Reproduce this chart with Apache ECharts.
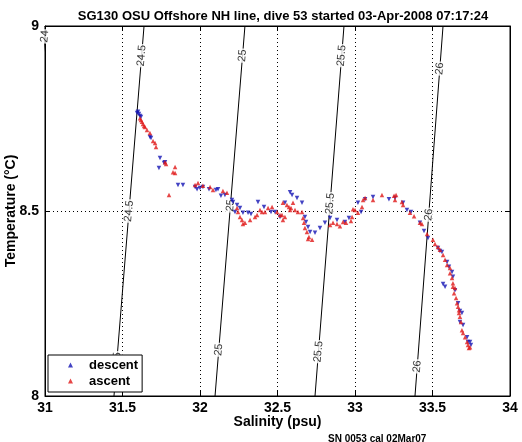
<!DOCTYPE html>
<html><head><meta charset="utf-8">
<script src="https://cdn.jsdelivr.net/npm/echarts@6/dist/echarts.min.js"></script>
<style>html,body{margin:0;padding:0;background:#fff}#c{width:522px;height:442px}</style>
</head><body><div id="c"></div>
<script>
// ---- data ----
const titleText = 'SG130 OSU Offshore NH line, dive 53 started 03-Apr-2008 07:17:24';
const xName = 'Salinity (psu)';
const yName = 'Temperature (\u00B0C)';
const noteText = 'SN 0053 cal 02Mar07';
const xTicks = [31, 31.5, 32, 32.5, 33, 33.5, 34];
const yTicks = [8, 8.5, 9];
const seriesNames = ['descent', 'ascent'];

// sigma-theta contour levels, salinity where each crosses T=8 and T=9
const sigmaLevels = [24, 24.5, 25, 25.5, 26];
const sigmaSalAtT8 = [30.81, 31.445, 32.097, 32.742, 33.387];
const sigmaSalAtT9 = [31.004, 31.639, 32.290, 32.929, 33.568];
// temperatures at which the contour labels sit
const sigmaLabelTemps = [[8.972], [8.92, 8.50, 8.09], [8.92, 8.515, 8.125], [8.92, 8.52, 8.12], [8.885, 8.49, 8.08]];

// descent [salinity, temperature]
const descentPoints = [
[31.594,8.765],[31.600,8.768],[31.606,8.762],[31.613,8.757],[31.619,8.754],[31.677,8.700],[31.684,8.697],
[31.742,8.643],[31.735,8.616],[31.768,8.630],[31.774,8.632],[31.858,8.570],[31.890,8.570],[31.968,8.565],
[31.981,8.559],[32.000,8.562],[32.019,8.565],[32.058,8.559],[32.103,8.557],[32.116,8.559],[32.135,8.541],
[32.161,8.543],[32.206,8.530],[32.213,8.524],[32.239,8.516],[32.258,8.508],[32.226,8.497],[32.277,8.495],
[32.310,8.495],[32.329,8.492],[32.374,8.524],[32.413,8.511],[32.458,8.497],[32.484,8.497],[32.516,8.484],
[32.548,8.522],[32.581,8.551],[32.594,8.543],[32.626,8.535],[32.658,8.522],[32.677,8.484],[32.684,8.470],
[32.697,8.457],[32.710,8.443],[32.742,8.441],[32.774,8.454],[32.806,8.468],[32.839,8.481],[32.884,8.476],
[32.935,8.470],[32.961,8.481],[33.019,8.522],[33.039,8.497],[33.065,8.532],[33.116,8.538],[33.219,8.532],
[33.258,8.535],[33.310,8.522],[33.335,8.503],[33.361,8.497],[33.419,8.468],[33.445,8.446],[33.471,8.427],
[33.535,8.400],[33.548,8.392],[33.561,8.389],[33.594,8.362],[33.606,8.349],[33.626,8.335],[33.632,8.322],
[33.568,8.303],[33.581,8.295],[33.645,8.286],[33.665,8.251],[33.677,8.230],[33.690,8.224],[33.677,8.200],
[33.697,8.192],[33.723,8.159],[33.729,8.146],[33.742,8.146],[33.748,8.138]
];
// ascent [salinity, temperature]
const ascentPoints = [
[31.613,8.751],[31.619,8.746],[31.626,8.741],[31.632,8.735],[31.639,8.730],[31.645,8.727],[31.658,8.719],
[31.677,8.711],[31.697,8.689],[31.710,8.684],[31.716,8.673],[31.774,8.632],[31.781,8.627],[31.839,8.619],
[31.826,8.605],[31.839,8.603],[31.800,8.543],[31.968,8.570],[31.987,8.576],[32.019,8.568],[32.065,8.565],
[32.084,8.557],[32.148,8.554],[32.174,8.549],[32.239,8.508],[32.245,8.497],[32.258,8.484],[32.271,8.476],
[32.277,8.465],[32.290,8.468],[32.323,8.476],[32.355,8.484],[32.368,8.489],[32.387,8.503],[32.400,8.497],
[32.419,8.497],[32.439,8.508],[32.465,8.511],[32.497,8.497],[32.516,8.489],[32.529,8.489],[32.535,8.476],
[32.548,8.484],[32.535,8.522],[32.561,8.516],[32.574,8.511],[32.587,8.508],[32.600,8.522],[32.581,8.503],
[32.613,8.503],[32.632,8.497],[32.658,8.497],[32.665,8.481],[32.671,8.468],[32.677,8.454],[32.690,8.443],
[32.703,8.430],[32.723,8.422],[32.697,8.424],[32.839,8.462],[32.858,8.468],[32.884,8.465],[32.903,8.459],
[32.923,8.470],[32.942,8.468],[32.974,8.473],[32.981,8.484],[33.000,8.503],[32.987,8.505],[33.019,8.495],
[33.045,8.511],[33.052,8.530],[33.065,8.535],[33.116,8.530],[33.174,8.543],[33.252,8.541],[33.265,8.543],
[33.258,8.530],[33.303,8.524],[33.310,8.516],[33.355,8.495],[33.381,8.486],[33.419,8.468],[33.432,8.465],
[33.465,8.438],[33.503,8.422],[33.516,8.411],[33.535,8.403],[33.548,8.395],[33.568,8.381],[33.581,8.368],
[33.594,8.354],[33.613,8.346],[33.613,8.332],[33.626,8.319],[33.632,8.305],[33.632,8.295],[33.639,8.278],
[33.645,8.292],[33.652,8.265],[33.658,8.251],[33.665,8.241],[33.671,8.232],[33.671,8.224],[33.677,8.214],
[33.684,8.200],[33.690,8.178],[33.697,8.170],[33.710,8.159],[33.723,8.146],[33.729,8.138],[33.735,8.130],
[33.742,8.132]
];

// ---- chart ----
const FONT = 'Liberation Sans, Arial, Helvetica, sans-serif';
const chart = echarts.init(document.getElementById('c'), null, {renderer: 'canvas'});

const series = [];
sigmaLevels.forEach((lev, i) => {
  series.push({
    type: 'line', silent: true, z: 1, symbol: 'none', clip: true,
    lineStyle: {color: '#000', width: 1},
    data: [[sigmaSalAtT8[i], yTicks[0]], [sigmaSalAtT9[i], yTicks[yTicks.length - 1]]]
  });
  const lab = sigmaLabelTemps[i].map(t => [sigmaSalAtT8[i] + (t - 8) * (sigmaSalAtT9[i] - sigmaSalAtT8[i]), t]);
  series.push({
    type: 'scatter', silent: true, z: 2, symbol: 'circle', symbolSize: 0.1, clip: false,
    itemStyle: {color: 'rgba(0,0,0,0)'},
    label: {show: true, position: 'inside', rotate: 85, formatter: String(lev),
      color: '#000', fontSize: 11, fontFamily: FONT, backgroundColor: '#fff', padding: [0, 1]},
    data: lab
  });
});
series.push({
  name: seriesNames[0], type: 'scatter', z: 3, symbol: 'triangle', symbolRotate: 180, symbolSize: 4.5,
  itemStyle: {color: '#1414b4'}, data: descentPoints
});
series.push({
  name: seriesNames[1], type: 'scatter', z: 4, symbol: 'triangle', symbolSize: 4.5,
  itemStyle: {color: '#e01818'}, data: ascentPoints
});

const axisCommon = {
  type: 'value',
  axisLine: {show: true, onZero: false, lineStyle: {color: '#000', width: 1}},
  axisTick: {show: true, inside: true, length: 5, lineStyle: {color: '#000'}},
};

chart.setOption({
  animation: false,
  backgroundColor: '#fff',
  title: [
    {text: titleText, left: 278, top: 5, textAlign: 'center',
     textStyle: {fontFamily: FONT, fontSize: 13, fontWeight: 'bold', color: '#000'}},
    {text: noteText, left: 323, top: 429,
     textStyle: {fontFamily: FONT, fontSize: 10, fontWeight: 'bold', color: '#000'}}
  ],
  grid: {left: 45, right: 12, top: 26, bottom: 46, show: true, borderColor: '#000', borderWidth: 1,
         containLabel: false, outerBoundsMode: 'none'},
  legend: {
    data: seriesNames, orient: 'vertical', left: 48, top: 355,
    itemWidth: 5, itemHeight: 5, itemGap: 2,
    padding: [3, 4, 4, 20],
    backgroundColor: '#fff', borderColor: '#000', borderWidth: 1, borderRadius: 0,
    formatter: name => '{t|' + name + '}',
    textStyle: {fontFamily: FONT, fontSize: 13, fontWeight: 'bold', color: '#000', lineHeight: 14,
      rich: {t: {fontFamily: FONT, fontSize: 13, fontWeight: 'bold', color: '#000', lineHeight: 14, padding: [0, 0, 0, 11]}}}
  },
  xAxis: [
    Object.assign({}, axisCommon, {
      min: xTicks[0], max: xTicks[xTicks.length - 1], interval: 0.5, position: 'bottom',
      name: xName, nameLocation: 'middle', nameGap: 19, nameMoveOverlap: false,
      nameTextStyle: {fontFamily: FONT, fontSize: 14, fontWeight: 'bold', color: '#000'},
      axisLabel: {color: '#000', fontFamily: FONT, fontSize: 14, fontWeight: 'bold', margin: 5},
      splitLine: {show: true, lineStyle: {color: '#000', type: [1, 3], width: 1}}
    }),
    Object.assign({}, axisCommon, {
      min: xTicks[0], max: xTicks[xTicks.length - 1], interval: 0.5, position: 'top',
      axisLabel: {show: false}, splitLine: {show: false}
    })
  ],
  yAxis: [
    Object.assign({}, axisCommon, {
      min: yTicks[0], max: yTicks[yTicks.length - 1], interval: 0.5, position: 'left',
      name: yName, nameLocation: 'middle', nameGap: 27, nameMoveOverlap: false,
      nameTextStyle: {fontFamily: FONT, fontSize: 14, fontWeight: 'bold', color: '#000'},
      axisLabel: {color: '#000', fontFamily: FONT, fontSize: 14, fontWeight: 'bold', margin: 6},
      splitLine: {show: true, lineStyle: {color: '#000', type: [1, 3], width: 1}}
    }),
    Object.assign({}, axisCommon, {
      min: yTicks[0], max: yTicks[yTicks.length - 1], interval: 0.5, position: 'right',
      axisLabel: {show: false}, splitLine: {show: false}
    })
  ],
  series: series
});
</script>
</body></html>
